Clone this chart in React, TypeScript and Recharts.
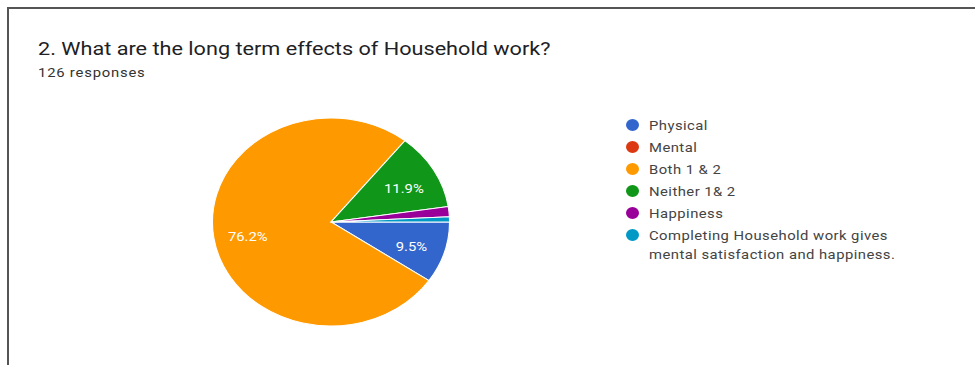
import { Cell, Pie, PieChart } from 'recharts'

const categories = [
  'Physical',
  'Mental',
  'Both 1 & 2',
  'Neither 1& 2',
  'Happiness',
  'Completing Household work gives mental satisfaction and happiness.',
]
const responses = [12, 0, 96, 15, 2, 1]
const colors = ['#3366cc', '#dc3912', '#ff9900', '#109618', '#990099', '#0099c6']

const title = '2. What are the long term effects of Household work?'
const totalLabel = '126 responses'

const RADIAN = Math.PI / 180
// the source picture is stretched sideways a little
const STRETCH = 'scaleX(1.14)'

type LabelProps = {
  cx: number
  cy: number
  midAngle: number
  outerRadius: number
  percent: number
}

function renderPercent({ cx, cy, midAngle, outerRadius, percent }: LabelProps) {
  if (percent < 0.05) return null
  const r = outerRadius * 0.71
  const x = cx + r * Math.cos(-midAngle * RADIAN)
  const y = cy + r * Math.sin(-midAngle * RADIAN) + 3
  return (
    <text
      x={x}
      y={y}
      fill="#ffffff"
      textAnchor="middle"
      dominantBaseline="central"
      fontSize={13}
      fontFamily="Roboto, Arial, sans-serif"
    >
      {(percent * 100).toFixed(1)}%
    </text>
  )
}

export default function App() {
  const data = categories.map((name, i) => ({ name, value: responses[i] }))

  return (
    <div
      style={{
        position: 'absolute',
        left: 0,
        top: 0,
        width: 975,
        height: 365,
        background: '#ffffff',
        overflow: 'hidden',
        fontFamily: 'Roboto, Arial, sans-serif',
      }}
    >
      <div
        style={{
          position: 'absolute',
          left: 7,
          top: 7,
          width: 980,
          height: 370,
          borderTop: '2px solid #555',
          borderLeft: '2px solid #555',
        }}
      />
      <div
        style={{
          position: 'absolute',
          left: 38,
          top: 37,
          fontSize: 19,
          color: '#202124',
          whiteSpace: 'nowrap',
          transform: STRETCH,
          transformOrigin: 'left center',
        }}
      >
        {title}
      </div>
      <div
        style={{
          position: 'absolute',
          left: 38,
          top: 65,
          fontSize: 13,
          letterSpacing: 0.7,
          color: '#333',
          whiteSpace: 'nowrap',
          transform: STRETCH,
          transformOrigin: 'left center',
        }}
      >
        {totalLabel}
      </div>

      <div
        style={{
          position: 'absolute',
          left: 226,
          top: 117,
          width: 210,
          height: 210,
          transform: STRETCH,
          transformOrigin: 'center',
        }}
      >
        <PieChart width={210} height={210} margin={{ top: 0, right: 0, bottom: 0, left: 0 }}>
          <Pie
            data={data}
            dataKey="value"
            nameKey="name"
            cx={105}
            cy={105}
            outerRadius={104}
            startAngle={0}
            endAngle={-360}
            stroke="#ffffff"
            strokeWidth={1}
            label={renderPercent}
            labelLine={false}
            isAnimationActive={false}
          >
            {data.map((d, i) => (
              <Cell key={d.name} fill={colors[i]} />
            ))}
          </Pie>
        </PieChart>
      </div>

      <div style={{ position: 'absolute', left: 626, top: 116, width: 330 }}>
        {categories.map((name, i) => (
          <div key={name} style={{ display: 'flex', alignItems: 'flex-start', marginBottom: 3 }}>
            <span
              style={{
                width: 13,
                height: 12,
                borderRadius: '50%',
                background: colors[i],
                marginTop: 3,
                marginRight: 10,
                flexShrink: 0,
              }}
            />
            <span
              style={{
                fontSize: 13,
                lineHeight: '19px',
                color: '#444',
                width: 250,
                letterSpacing: 0.4,
                transform: STRETCH,
                transformOrigin: 'left center',
              }}
            >
              {name}
            </span>
          </div>
        ))}
      </div>
    </div>
  )
}
